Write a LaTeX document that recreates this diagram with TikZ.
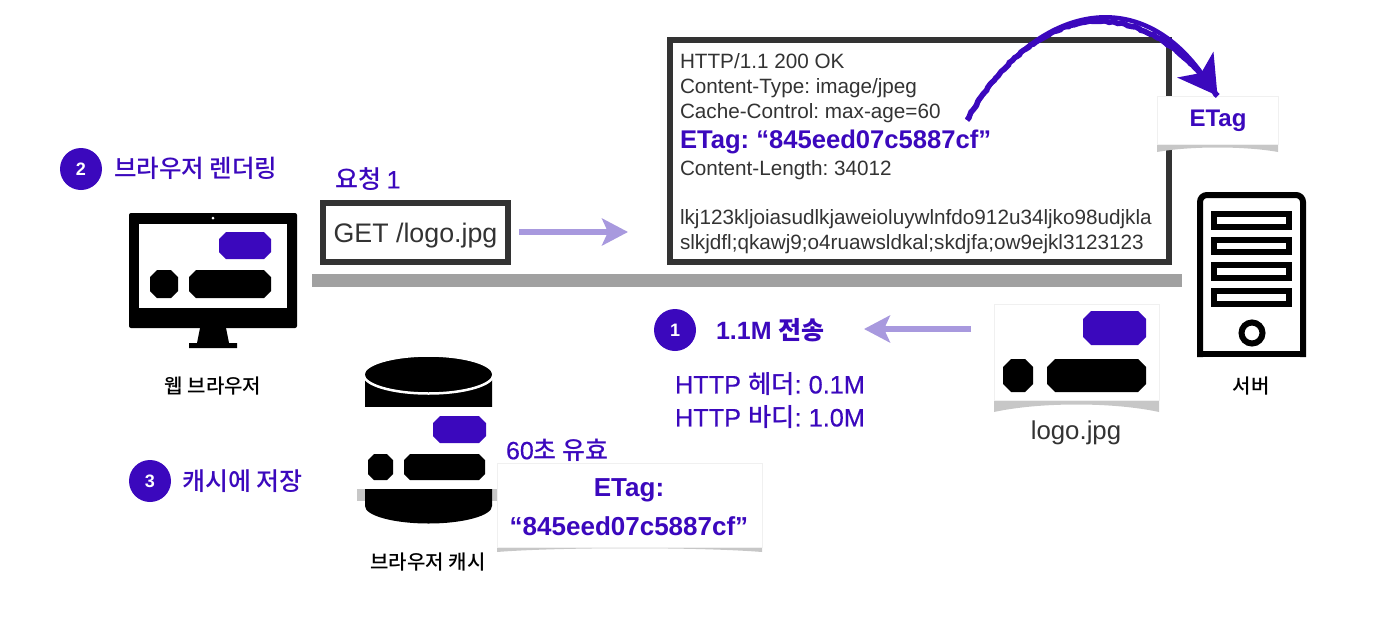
\documentclass[tikz,border=0pt]{standalone}
\usepackage{fontspec}
\setmainfont{Liberation Sans}
\newfontfamily\medfont[FakeBold=0.35]{Liberation Sans}
\newfontfamily\krfont{Noto Sans CJK KR}
\newfontfamily\krmed{Noto Sans CJK KR Medium}
\usetikzlibrary{arrows.meta,shapes.geometric,decorations.pathmorphing,positioning}
\frenchspacing

\definecolor{stepcolor}{rgb}{0.23,0.03,0.74}
\definecolor{textcolor}{rgb}{0.20,0.20,0.20}
\definecolor{barcolor}{rgb}{0.63,0.63,0.63}
\definecolor{flowcolor}{rgb}{0.66,0.60,0.87}
\definecolor{shadecolor}{rgb}{0.78,0.78,0.78}

\newcommand{\octbox}[6]{\fill[#1] ({#2+#6},#3) -- ({#4-#6},#3) -- (#4,{#3+#6}) -- (#4,{#5-#6}) -- ({#4-#6},#5) -- ({#2+#6},#5) -- (#2,{#5-#6}) -- (#2,{#3+#6}) -- cycle;}

\tikzset{
  txt/.style={inner sep=0pt,outer sep=0pt,text=textcolor,font=\fontsize{#1}{#1}\selectfont},
  steptxt/.style={inner sep=0pt,outer sep=0pt,text=stepcolor,font=\medfont\fontsize{#1}{#1}\selectfont},
  stepbold/.style={inner sep=0pt,outer sep=0pt,text=stepcolor,font=\fontsize{#1}{#1}\selectfont\bfseries},
  krstep/.style={inner sep=0pt,outer sep=0pt,text=stepcolor,font=\krmed\fontsize{#1}{#1}\selectfont},
  kolabel/.style={inner sep=0pt,outer sep=0pt,text=black,font=\krmed\fontsize{20}{20}\selectfont},
  stepdot/.style={circle,fill=stepcolor,text=white,minimum size=42pt,inner sep=0pt,font=\fontsize{18}{18}\selectfont\bfseries},
  card/.style={rectangle,fill=white,draw=black!6,line width=.5pt,inner sep=0pt},
  shade/.style={fill=shadecolor,draw=none},
  framebox/.style={rectangle,draw=textcolor,line width=6pt,fill=white,inner sep=0pt},
  flow/.style={-{Stealth[length=26pt,width=27pt,inset=6pt]},draw=flowcolor,line width=6pt},
  solid black/.style={fill=black,draw=none},
  slotbox/.style={rectangle,draw=black,line width=6.5pt,minimum width=75pt,inner sep=0pt}
}

\begin{document}
\begin{tikzpicture}[x=1pt,y=-1pt]
    \useasboundingbox (0,0) rectangle (1390,640);

    % divider and message boxes
    \node(bar) [rectangle,fill=barcolor,minimum width=870pt,minimum height=13pt,inner sep=0pt] at (747,280.5) {};
    \node(reqbox) [framebox,minimum width=185pt,minimum height=59pt] at (415.5,232.5) {};
    \node(reqtext) [txt=26.8] at (415.5,235.5) {GET /logo.jpg};
    \node(reqlabel) [krstep=25,anchor=west] at (335,179) {요청 {\medfont 1}};
    \node(respbox) [framebox,minimum width=499pt,minimum height=222pt] at (919.5,151) {};

    \node(resp1) [txt=20.7,anchor=base west] at (680,68.5) {HTTP/1.1 200 OK};
    \node(resp2) [txt=20.7,anchor=base west] at (680,93) {Content-Type: image/jpeg};
    \node(resp3) [txt=20.7,anchor=base west] at (680,118) {Cache-Control: max-age=60};
    \node(resp4) [stepbold=25.6,anchor=base west] at (680,148) {ETag: “845eed07c5887cf”};
    \node(resp5) [txt=20.7,anchor=base west] at (680,175) {Content-Length: 34012};
    \node(resp6) [txt=20.7,anchor=base west] at (680,224) {lkj123kljoiasudlkjaweioluywlnfdo912u34ljko98udjkla};
    \node(resp7) [txt=20.7,anchor=base west] at (680,249) {slkjdfl;qkawj9;o4ruawsldkal;skdjfa;ow9ejkl3123123};

    % request arrow
    \coordinate(reqfrom) at (519,232);
    \coordinate(reqto) at (628,232);
    \draw[flow] (reqfrom) -- (reqto);

    % etag card
    \path[shade] (1157,140) -- (1157,152) .. controls (1190,146) and (1245,146) .. (1278,152) -- (1278,140) -- cycle;
    \node(etagcard) [card,minimum width=121pt,minimum height=48pt] at (1217.5,120) {};
    \node(etagtext) [stepbold=24] at (1218,121) {ETag};
    \coordinate(etagfrom) at (967,120);
    \draw[-{Stealth[length=38pt,width=44pt,inset=10pt,fill=stepcolor]},draw=stepcolor,line width=4.5pt,
          decoration={random steps,segment length=3pt,amplitude=.7pt},
          postaction={draw,decorate,-,line width=5.5pt}]
        (etagfrom) .. controls (1030,8) and (1135,-20) .. (etagcard.north);

    % browser
    \node(screen) [rectangle,fill=black,rounded corners=2pt,minimum width=168pt,minimum height=115pt,inner sep=0pt] at (213,270.5) {};
    \node(display) [rectangle,fill=white,minimum width=148pt,minimum height=84pt,inner sep=0pt] at (213,266) {};
    \node(camera) [circle,fill=white,minimum size=3pt,inner sep=0pt] at (213,218) {};
    \path[solid black] (200,328) -- (226,328) -- (229,343) -- (237,343) -- (237,348) -- (189,348) -- (189,343) -- (197,343) -- cycle;
    \octbox{stepcolor}{219}{232}{271}{259}{7}
    \octbox{black}{150}{270}{178}{298}{7}
    \octbox{black}{189}{270}{271}{298}{7}
    \node(weblabel) [kolabel] at (213,386) {웹 브라우저};

    % server
    \draw[draw=black,line width=6pt,rounded corners=7pt] (1200,357) -- (1200,195) -- (1303,195) -- (1303,357);
    \draw[draw=black,line width=6pt] (1197,354) -- (1306,354);
    \node(slot1) [slotbox,minimum height=13pt] at (1251.5,220.5) {};
    \node(slot2) [slotbox,minimum height=12pt] at (1251.5,246) {};
    \node(slot3) [slotbox,minimum height=13pt] at (1251.5,271.5) {};
    \node(slot4) [slotbox,minimum height=13pt] at (1251.5,297.5) {};
    \node(knob) [circle,draw=black,line width=6pt,minimum size=21pt,inner sep=0pt] at (1252,333) {};
    \node(serverlabel) [kolabel] at (1251,386) {서버};

    % logo card
    \path[shade] (994,395) -- (994,412) .. controls (1040,402) and (1113,402) .. (1159,412) -- (1159,395) -- cycle;
    \node(logocard) [card,minimum width=165pt,minimum height=96pt] at (1076.5,352) {};
    \octbox{stepcolor}{1083}{311}{1146}{345}{8}
    \octbox{black}{1003}{359}{1033}{392}{8}
    \octbox{black}{1047}{359}{1146}{392}{8}
    \node(logoname) [txt=25.8] at (1076,433) {logo.jpg};

    % step one
    \node(one) [stepdot] at (675,330) {1};
    \node(onetext) [stepbold=25,anchor=west] at (716,330) {1.1M {\krfont\bfseries 전송}};
    \coordinate(sendfrom) at (971,329);
    \coordinate(sendto) at (864,329);
    \draw[flow] (sendfrom) -- (sendto);
    \node(headtext) [steptxt=25.3,anchor=west] at (675,384) {HTTP {\krmed 헤더}: 0.1M};
    \node(bodytext) [steptxt=25.3,anchor=west] at (675,417) {HTTP {\krmed 바디}: 1.0M};

    % step two
    \node(two) [stepdot] at (81,169) {2};
    \node(twotext) [krstep=24.5,anchor=west] at (114,168) {브라우저 렌더링};

    % browser cache
    \path[shade] (357,485) rectangle (498,501);
    \path[solid black] (365,374) -- (365,506) arc[start angle=180,end angle=0,x radius=63.5pt,y radius=-17.5pt] -- (492,374) -- cycle;
    \node(cachetop) [ellipse,fill=black,draw=white,line width=2.5pt,minimum width=130pt,minimum height=38pt,inner sep=0pt] at (428.5,374.5) {};
    \node(cachecard) [card,draw=none,minimum width=141pt,minimum height=82pt] at (427.5,448) {};
    \octbox{stepcolor}{433}{416}{486}{443}{7}
    \octbox{black}{368}{454}{393}{480}{6}
    \octbox{black}{404}{454}{485}{480}{6}
    \node(cachelabel) [kolabel] at (428,562) {브라우저 캐시};

    % step three
    \node(three) [stepdot] at (150,481) {3};
    \node(threetext) [krstep=25,anchor=west] at (182,481) {캐시에 저장};
    \node(validtext) [steptxt=25,anchor=west] at (506,450) {60{\krmed 초 유효}};

    % cached etag
    \path[shade] (497,540) -- (497,552) .. controls (560,547) and (700,547) .. (762,552) -- (762,540) -- cycle;
    \node(tagcard) [card,minimum width=265pt,minimum height=84pt] at (629.5,505) {};
    \node(tagline1) [stepbold=26] at (629,490) {ETag:};
    \node(tagline2) [stepbold=26] at (629,526) {“845eed07c5887cf”};

\end{tikzpicture}
\end{document}
